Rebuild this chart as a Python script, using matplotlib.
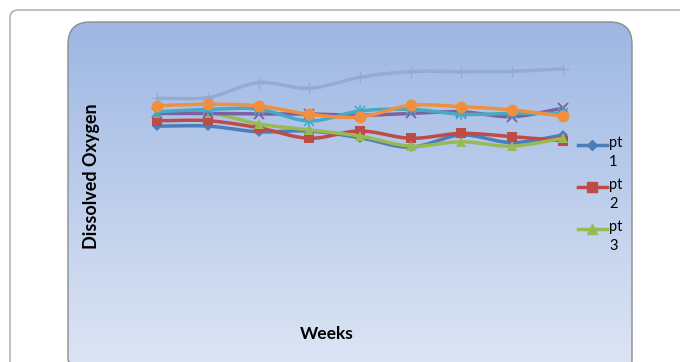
import numpy as np
import matplotlib.pyplot as plt
from matplotlib.patches import FancyBboxPatch
from matplotlib.lines import Line2D

# week index and dissolved oxygen readings per point
weeks = np.arange(9)
pt1 = [6.44, 6.44, 6.23, 6.26, 6.01, 5.66, 6.11, 5.83, 6.11]
pt2 = [6.64, 6.64, 6.38, 5.99, 6.26, 5.99, 6.17, 6.05, 5.90]
pt3 = [6.94, 6.94, 6.52, 6.30, 6.07, 5.70, 5.86, 5.70, 5.99]
pt4 = [6.91, 6.91, 6.89, 6.89, 6.84, 6.91, 6.97, 6.79, 7.10]
pt5 = [6.97, 7.06, 7.07, 6.63, 7.00, 7.06, 6.88, 6.91, 6.91]
pt6 = [7.20, 7.25, 7.19, 6.88, 6.78, 7.21, 7.16, 7.04, 6.81]
pt7 = [7.47, 7.50, 8.05, 7.84, 8.25, 8.46, 8.46, 8.47, 8.56]

legend_labels = ["pt\n1", "pt\n2", "pt\n3"]

W, H = 680, 362
fig = plt.figure(figsize=(W / 100, H / 100), dpi=100)

# background layer in pixel coordinates (y down)
bg = fig.add_axes([0, 0, 1, 1])
bg.set_xlim(0, W)
bg.set_ylim(H, 0)
bg.axis("off")

outer = FancyBboxPatch((10, 10), 700, 400, boxstyle="round,pad=0,rounding_size=8",
                       fc="white", ec="#a6a6a6", lw=1.0)
bg.add_patch(outer)

inner = FancyBboxPatch((68, 22), 564, 360, boxstyle="round,pad=0,rounding_size=22",
                       fc="none", ec="#8c8c8c", lw=1.0, zorder=3)
bg.add_patch(inner)

top_c = np.array([157, 183, 227]) / 255
bot_c = np.array([224, 231, 245]) / 255
t = np.linspace(0, 1, 256)[:, None]
grad = top_c[None, None, :] * (1 - t[..., None]) + bot_c[None, None, :] * t[..., None]
grad = np.repeat(grad, 2, axis=1)
im = bg.imshow(grad, extent=(68, 632, 382, 22), aspect="auto", zorder=2)
clip = FancyBboxPatch((68, 22), 564, 360, boxstyle="round,pad=0,rounding_size=22",
                      fc="none", ec="none", transform=bg.transData)
bg.add_patch(clip)
im.set_clip_path(clip)

bg.text(327, 334, "Weeks", ha="center", va="center", fontsize=12.5,
        fontweight="bold", family="Lato", zorder=4)
bg.text(91, 176, "Dissolved Oxygen", ha="center", va="center", rotation=90,
        fontsize=13, fontweight="bold", family="Lato", zorder=4)

# plot area
px_left, px_right = 132.0, 588.0
px_top, px_bot = 30.0, 300.0
ax = fig.add_axes([px_left / W, (H - px_bot) / H,
                   (px_right - px_left) / W, (px_bot - px_top) / H])
ax.set_xlim(-0.5, 8.5)
ax.set_ylim(0, 10)
ax.patch.set_alpha(0)
ax.axis("off")


def smooth(x, y, n=20):
    # catmull-rom curve through the points, like excel's smoothed line
    x = np.asarray(x, float)
    y = np.asarray(y, float)
    px = np.concatenate([[2 * x[0] - x[1]], x, [2 * x[-1] - x[-2]]])
    py = np.concatenate([[2 * y[0] - y[1]], y, [2 * y[-1] - y[-2]]])
    xs, ys = [], []
    s = np.linspace(0, 1, n, endpoint=False)
    for i in range(1, len(px) - 2):
        for arr, out in ((px, xs), (py, ys)):
            p0, p1, p2, p3 = arr[i - 1], arr[i], arr[i + 1], arr[i + 2]
            out.extend(0.5 * (2 * p1 + (-p0 + p2) * s
                              + (2 * p0 - 5 * p1 + 4 * p2 - p3) * s ** 2
                              + (-p0 + 3 * p1 - 3 * p2 + p3) * s ** 3))
    xs.append(x[-1])
    ys.append(y[-1])
    return xs, ys


series = [
    (pt7, "#93a9d2", "+", 9, 1.0, 0.9),
    (pt1, "#4a7ebb", "D", 5.5, 0, 1),
    (pt2, "#be4b48", "s", 7.5, 0, 1),
    (pt3, "#98b954", "^", 7.5, 0, 1),
    (pt4, "#7d60a0", "x", 7, 1.3, 1),
    (pt5, "#46aac5", "*", 0, 0, 1),
    (pt6, "#f08f3e", "o", 8.5, 0, 1),
]

for vals, col, mk, ms, mew, a in series:
    sx, sy = smooth(weeks, vals)
    ax.plot(sx, sy, color=col, lw=2.5, alpha=a, solid_capstyle="round")
    if mk == "*":
        ax.plot(weeks, vals, ls="none", marker="x", ms=7, mew=1.2, color=col)
        ax.plot(weeks, vals, ls="none", marker="|", ms=8, mew=1.2, color=col)
    else:
        ax.plot(weeks, vals, ls="none", marker=mk, ms=ms, mew=mew, color=col, alpha=a)

# legend, handle sits on the first line of each label
leg = [("#4a7ebb", "D", 5.5), ("#be4b48", "s", 7.5), ("#98b954", "^", 7.5)]
for i, ((col, mk, ms), lab) in enumerate(zip(leg, legend_labels)):
    yy = 145 + i * 42
    bg.add_line(Line2D([578, 607], [yy, yy], color=col, lw=2.5, zorder=5))
    bg.add_line(Line2D([592], [yy], color=col, marker=mk, ms=ms, zorder=5))
    bg.text(609, yy - 9, lab, ha="left", va="top", fontsize=10.5,
            family="Lato", linespacing=1.45, zorder=5)

fig.savefig("out.png", dpi=100)
